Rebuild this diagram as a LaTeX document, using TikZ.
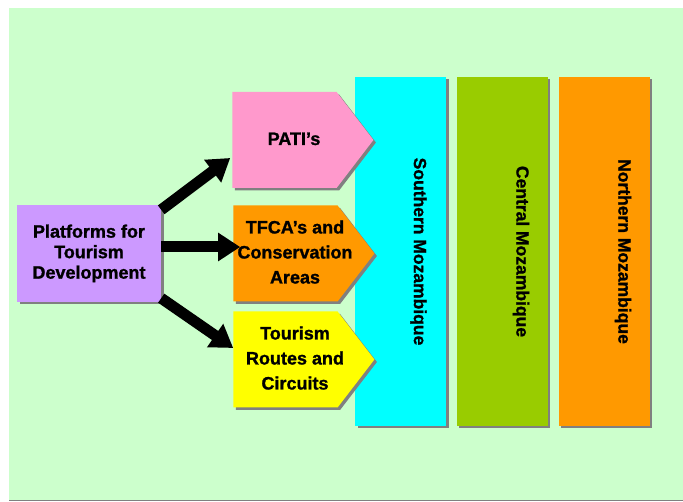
\documentclass[tikz,border=0pt]{standalone}
\usepackage{fontspec}
\setmainfont{Liberation Sans}[BoldFeatures={FakeBold=1.2}]
\usetikzlibrary{shapes.symbols}
\usetikzlibrary{shadows}
\usetikzlibrary{arrows.meta}
\usetikzlibrary{calc}
\definecolor{bggreen}{HTML}{CCFFCC}
\definecolor{shadowgray}{HTML}{808080}
\definecolor{lilac}{HTML}{CC99FF}
\definecolor{pink}{HTML}{FF99CC}
\definecolor{tangerine}{HTML}{FF9900}
\definecolor{lemon}{HTML}{FFFF00}
\definecolor{aqua}{HTML}{00FFFF}
\definecolor{lime}{HTML}{99CC00}
\newcommand{\padtext}[1]{\makebox[0pt]{\hspace*{19pt}\begin{tabular}{@{}c@{}}#1\end{tabular}}}
\tikzset{every picture/.style={x=1pt,y=-1pt},
  shade box/.style={general shadow={fill=shadowgray,shadow xshift=2.5pt,shadow yshift=-2.5pt}},
  platbox/.style={rectangle,shade box,minimum width=144pt,minimum height=97pt,inner sep=0pt,align=center,font=\fontsize{18}{20.5}\selectfont\bfseries},
  arrowbox/.style={signal,signal to=east,signal pointer angle=105,shade box,minimum width=141pt,minimum height=96pt,inner sep=0pt,font=\fontsize{18}{25}\selectfont\bfseries},
  regionbox/.style={rectangle,shade box,minimum width=91pt,minimum height=349pt,inner sep=0pt},
  regionlabel/.style={rotate=-90,inner sep=0pt,font=\fontsize{17.5}{20}\selectfont\bfseries},
  fatarrow/.style={line width=11pt,-{Triangle[length=22pt,width=27pt]}}}
\begin{document}
\begin{tikzpicture}
\useasboundingbox (0,0) rectangle (683,502);
\fill[bggreen] (9,8) rectangle (683,500);
\draw[shadowgray,line width=1pt] (9,500.5) -- (683,500.5);

\node (south) [regionbox,fill=aqua] at (400.5,251.5) {};
\node (central) [regionbox,fill=lime] at (502,251.5) {};
\node (north) [regionbox,fill=tangerine] at (604,251.5) {};
\node (southlbl) [regionlabel] at ([xshift=18pt]south.center) {Southern Mozambique};
\node (centrallbl) [regionlabel] at ([xshift=19pt]central.center) {Central Mozambique};
\node (northlbl) [regionlabel] at ([xshift=19pt]north.center) {Northern Mozambique};

\node (pati) [arrowbox,fill=pink] at (284.5,140) {\padtext{PATI’s}};
\node (tfca) [arrowbox,fill=tangerine] at (285.5,253.5) {\padtext{TFCA’s and\\Conservation\\Areas}};
\node (tour) [arrowbox,fill=lemon] at (285.5,359.5) {\padtext{Tourism\\Routes and\\Circuits}};

\node (plat) [platbox,fill=lilac] at (89,253.5) {Platforms for\\Tourism\\Development};

\draw[fatarrow] ([yshift=-5pt]plat.north east) -- ([xshift=-2pt,yshift=-18pt]pati.west);
\draw[fatarrow] ([yshift=6.5pt]plat.east) -- ([xshift=7pt,yshift=6.5pt]tfca.west);
\draw[fatarrow] ([yshift=4pt]plat.south east) -- ([yshift=11.5pt]tour.west);
\end{tikzpicture}
\end{document}
